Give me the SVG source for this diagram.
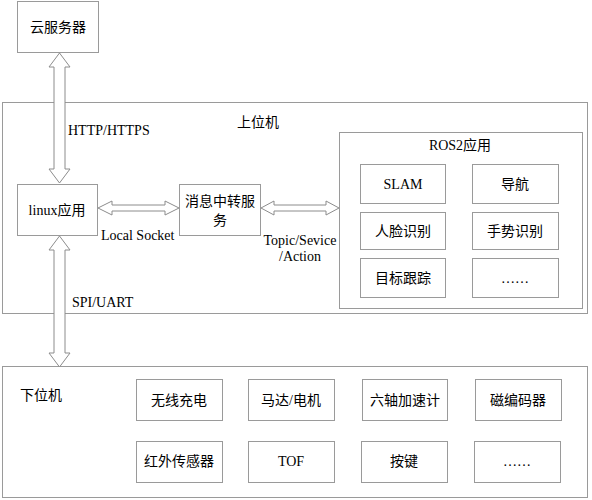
<svg xmlns="http://www.w3.org/2000/svg" width="592" height="500" viewBox="0 0 592 500">
<style>
.box{fill:#fff;stroke:#9a9a9a;stroke-width:1}
.frame{fill:none;stroke:#9a9a9a;stroke-width:1}
.arr{fill:#fff;stroke:#8c8c8c;stroke-width:1;stroke-linejoin:miter}
text{font-family:"Liberation Serif","Noto Sans CJK SC",serif;font-size:14px;fill:#000;text-anchor:middle;dominant-baseline:central}
.l{text-anchor:start}
</style>
<rect width="592" height="500" fill="#fff"/>
<g id="upper">
<rect class="frame" x="2.5" y="102.5" width="585" height="211"/>
<text x="258" y="122">上位机</text>
</g>
<g id="lower">
<rect class="frame" x="2.5" y="366.5" width="585" height="131"/>
<text x="41" y="395">下位机</text>
</g>
<g id="ros2">
<rect class="frame" x="339.5" y="132.5" width="243" height="176"/>
<text x="460" y="145">ROS2应用</text>
</g>
<g id="cloud"><rect class="box" x="17.5" y="1.5" width="81" height="51"/><text x="58" y="27">云服务器</text></g>
<g id="linux"><rect class="box" x="17.5" y="184.5" width="80" height="51"/><text x="57" y="210">linux应用</text></g>
<g id="relay"><rect class="box" x="179.5" y="184.5" width="81" height="51"/><text x="220" y="201">消息中转服</text><text x="220" y="220">务</text></g>
<g id="slam"><rect class="box" x="360.5" y="164.5" width="85" height="39"/><text x="403" y="184">SLAM</text></g>
<g id="nav"><rect class="box" x="472.5" y="164.5" width="86" height="39"/><text x="515" y="184">导航</text></g>
<g id="face"><rect class="box" x="360.5" y="212.5" width="85" height="37"/><text x="403" y="231">人脸识别</text></g>
<g id="gesture"><rect class="box" x="472.5" y="212.5" width="86" height="37"/><text x="515" y="231">手势识别</text></g>
<g id="track"><rect class="box" x="360.5" y="258.5" width="85" height="39"/><text x="403" y="278">目标跟踪</text></g>
<g id="ros-more"><rect class="box" x="472.5" y="258.5" width="86" height="39"/><text x="515" y="278">……</text></g>
<g id="charge"><rect class="box" x="136.5" y="379.5" width="86" height="41"/><text x="179" y="400">无线充电</text></g>
<g id="motor"><rect class="box" x="248.5" y="379.5" width="86" height="41"/><text x="291" y="400">马达/电机</text></g>
<g id="imu"><rect class="box" x="362.5" y="379.5" width="85" height="41"/><text x="405" y="400">六轴加速计</text></g>
<g id="encoder"><rect class="box" x="475.5" y="379.5" width="86" height="41"/><text x="518" y="400">磁编码器</text></g>
<g id="ir"><rect class="box" x="136.5" y="441.5" width="86" height="41"/><text x="179" y="461">红外传感器</text></g>
<g id="tof"><rect class="box" x="248.5" y="441.5" width="86" height="41"/><text x="291" y="461">TOF</text></g>
<g id="key"><rect class="box" x="361.5" y="441.5" width="86" height="41"/><text x="404" y="461">按键</text></g>
<g id="low-more"><rect class="box" x="474.5" y="441.5" width="86" height="41"/><text x="517" y="461">……</text></g>
<g id="connectors">
<polygon class="arr" points="59.5,53 70,67 65,67 65,169 70,169 59.5,183 49,169 54,169 54,67 49,67"/>
<polygon class="arr" points="59.5,236 70,250 65,250 65,353 70,353 59.5,367 49,353 54,353 54,250 49,250"/>
<polygon class="arr" points="98,208 112,201 112,205 165,205 165,201 179,208 165,215 165,211 112,211 112,215"/>
<polygon class="arr" points="261,208 274,201 274,205 326,205 326,201 339,208 326,215 326,211 274,211 274,215"/>
<text class="l" x="68" y="130">HTTP/HTTPS</text>
<text class="l" x="101" y="235">Local Socket</text>
<text x="300" y="240">Topic/Sevice</text>
<text x="300" y="256">/Action</text>
<text class="l" x="72" y="302">SPI/UART</text>
</g>
</svg>
